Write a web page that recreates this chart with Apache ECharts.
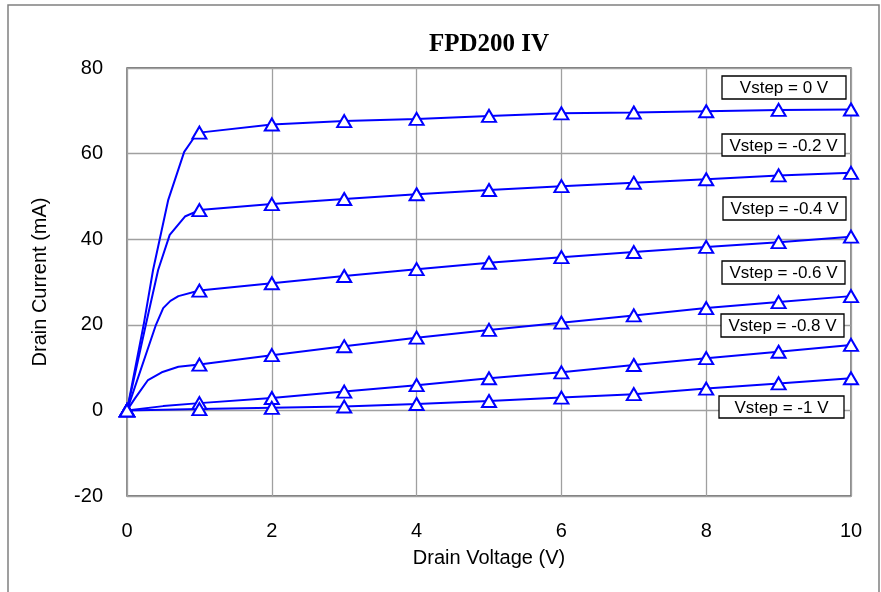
<!DOCTYPE html>
<html>
<head>
<meta charset="utf-8">
<title>FPD200 IV</title>
<script src="https://cdn.jsdelivr.net/npm/echarts@6/dist/echarts.min.js"></script>
<style>
  html, body { margin: 0; padding: 0; background: #fff; }
  #main { width: 881px; height: 592px; }
</style>
</head>
<body>
<div id="main"></div>
<script>
// 漏极电压（整数点，带三角标记）
const drainV = [0, 1, 2, 3, 4, 5, 6, 7, 8, 9, 10];
const stepNames = ["Vstep = 0 V", "Vstep = -0.2 V", "Vstep = -0.4 V", "Vstep = -0.6 V", "Vstep = -0.8 V", "Vstep = -1 V"];

// 各栅压下的漏极电流 (mA)
const idStep0 = [0, 64.9, 66.8, 67.6, 68.1, 68.8, 69.4, 69.6, 69.9, 70.2, 70.3];
const idStep02 = [0, 46.8, 48.2, 49.4, 50.5, 51.5, 52.4, 53.2, 54.0, 54.9, 55.5];
const idStep04 = [0, 28.0, 29.7, 31.4, 33.0, 34.5, 35.8, 37.0, 38.2, 39.3, 40.6];
const idStep06 = [0, 10.7, 12.9, 15.0, 17.0, 18.8, 20.5, 22.2, 23.9, 25.3, 26.7];
const idStep08 = [0, 1.7, 2.9, 4.4, 5.9, 7.5, 8.9, 10.6, 12.2, 13.7, 15.3];
const idStep10 = [0, 0.3, 0.6, 0.9, 1.5, 2.2, 3.0, 3.8, 5.1, 6.3, 7.5];

// 0~1V 线性区拐点（只画线，不带标记）
const kneeV0 = [0.23, 0.36, 0.57, 0.79, 0.92];
const kneeI0 = [20, 32.8, 49.2, 60.4, 63.6];
const kneeV02 = [0.26, 0.43, 0.59, 0.8];
const kneeI02 = [20, 32.8, 41.0, 45.3];
const kneeV04 = [0.4, 0.5, 0.6, 0.71];
const kneeI04 = [20, 23.9, 25.6, 26.7];
const kneeV06 = [0.11, 0.29, 0.48, 0.71];
const kneeI06 = [2.8, 7.1, 8.9, 10.2];
const kneeV08 = [0.5];
const kneeI08 = [1.0];
const kneeV10 = [0.5];
const kneeI10 = [0.15];

const curves = [
  { ids: idStep0, kv: kneeV0, ki: kneeI0 },
  { ids: idStep02, kv: kneeV02, ki: kneeI02 },
  { ids: idStep04, kv: kneeV04, ki: kneeI04 },
  { ids: idStep06, kv: kneeV06, ki: kneeI06 },
  { ids: idStep08, kv: kneeV08, ki: kneeI08 },
  { ids: idStep10, kv: kneeV10, ki: kneeI10 },
];

// 右侧标注框位置
const boxPos = [
  [722, 76, 124, 23],
  [722, 134, 123, 22],
  [723, 197, 123, 23],
  [722, 261, 123, 23],
  [721, 314, 123, 23],
  [719, 396, 125, 22],
];

const blue = "#0000ff";
const textFont = "Liberation Sans, Arial, sans-serif";

let series = [];
curves.forEach((c, index) => {
  let linePts = [[drainV[0], c.ids[0]]];
  c.kv.forEach((v, k) => linePts.push([v, c.ki[k]]));
  for (let i = 1; i < drainV.length; i++) linePts.push([drainV[i], c.ids[i]]);
  series.push({
    name: stepNames[index],
    type: "line",
    data: linePts,
    showSymbol: false,
    symbol: "none",
    lineStyle: { color: blue, width: 2 },
    z: 3,
  });
  series.push({
    name: stepNames[index] + " pts",
    type: "scatter",
    data: drainV.map((v, i) => [v, c.ids[i]]),
    symbol: "triangle",
    symbolSize: [14, 12],
    itemStyle: { color: "#fff", borderColor: blue, borderWidth: 2, opacity: 1 },
    z: 4,
  });
});

let graphic = [
  {
    type: "rect",
    shape: { x: 8, y: 5, width: 871, height: 600 },
    style: { fill: null, stroke: "#808080", lineWidth: 1.5 },
    z: -1,
  },
  {
    type: "text",
    x: 489,
    y: 45,
    style: {
      text: "FPD200 IV",
      font: 'bold 25px "Liberation Serif", "Times New Roman", serif',
      fill: "#000",
      textAlign: "center",
      textVerticalAlign: "middle",
    },
  },
];
boxPos.forEach((p, index) => {
  graphic.push({
    type: "rect",
    shape: { x: p[0], y: p[1], width: p[2], height: p[3] },
    style: { fill: "#fff", stroke: "#000", lineWidth: 1.3 },
    z: 10,
  });
  graphic.push({
    type: "text",
    x: p[0] + p[2] / 2,
    y: p[1] + p[3] / 2 + 1,
    style: {
      text: stepNames[index],
      font: "17px " + textFont,
      fill: "#000",
      textAlign: "center",
      textVerticalAlign: "middle",
    },
    z: 11,
  });
});

const myChart = echarts.init(document.getElementById("main"), null, { renderer: "canvas" });
const option = {
  animation: false,
  backgroundColor: "#fff",
  grid: {
    left: 127,
    right: 30,
    top: 68,
    bottom: 96,
    show: true,
    borderColor: "#505050",
    borderWidth: 1.3,
    backgroundColor: "#fff",
  },
  xAxis: {
    type: "value",
    min: 0,
    max: 10,
    interval: 2,
    name: "Drain Voltage (V)",
    nameLocation: "middle",
    nameGap: 52,
    nameTextStyle: { fontFamily: textFont, fontSize: 20, color: "#000" },
    axisLine: { show: false, onZero: false },
    axisTick: { show: false },
    axisLabel: { fontFamily: textFont, fontSize: 20, color: "#000", margin: 25 },
    splitLine: { show: true, lineStyle: { color: "#a0a0a0", width: 1.3 } },
  },
  yAxis: {
    type: "value",
    min: -20,
    max: 80,
    interval: 20,
    name: "Drain Current (mA)",
    nameLocation: "middle",
    nameGap: 77,
    nameTextStyle: { fontFamily: textFont, fontSize: 20, color: "#000" },
    axisLine: { show: false },
    axisTick: { show: false },
    axisLabel: { fontFamily: textFont, fontSize: 20, color: "#000", margin: 24 },
    splitLine: { show: true, lineStyle: { color: "#a0a0a0", width: 1.3 } },
  },
  series: series,
  graphic: graphic,
};
myChart.setOption(option);
</script>
</body>
</html>
